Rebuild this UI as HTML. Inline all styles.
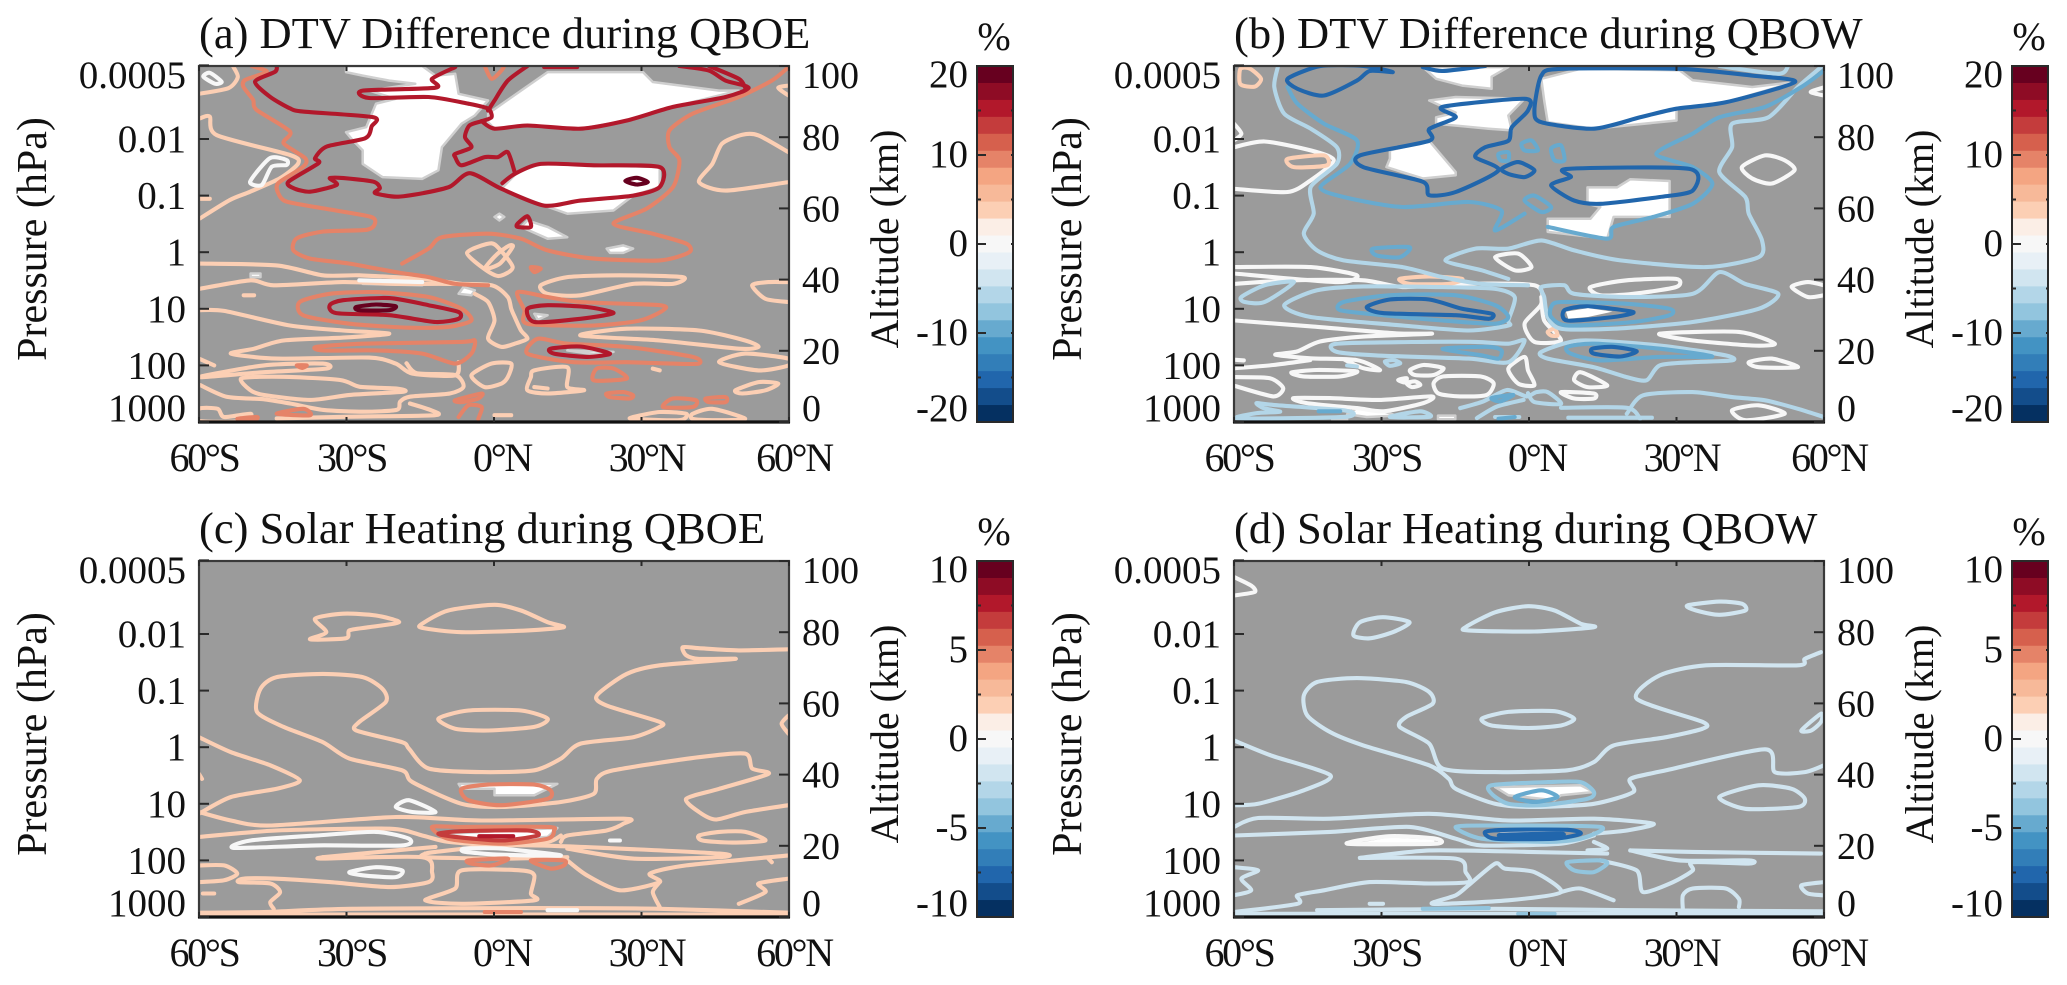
<!DOCTYPE html>
<html lang="en"><head><meta charset="utf-8"><title>DTV Difference and Solar Heating during QBO phases</title>
<style>
html,body{margin:0;padding:0;background:#fff;width:2067px;height:985px;overflow:hidden}
svg{display:block}
text{font-family:"Liberation Serif",serif;fill:#111}
.t{font-size:44.5px}.a{font-size:40px}
</style></head>
<body>
<svg id="fig" xmlns="http://www.w3.org/2000/svg" width="2067" height="985" viewBox="0 0 2067 985">
<g id="pa" transform="translate(0,0)">
<text class="t" x="199" y="48">(a) DTV Difference during QBOE</text>
<text class="a" style="font-size:42px" transform="translate(46,239) rotate(-90)" text-anchor="middle">Pressure (hPa)</text>
<text class="a" transform="translate(898,239) rotate(-90)" text-anchor="middle">Altitude (km)</text>
<text class="a" x="994" y="50" text-anchor="middle">%</text>
</g>
<g id="pb" transform="translate(1035,0)">
<text class="t" x="199" y="48">(b) DTV Difference during QBOW</text>
<text class="a" style="font-size:42px" transform="translate(46,239) rotate(-90)" text-anchor="middle">Pressure (hPa)</text>
<text class="a" transform="translate(898,239) rotate(-90)" text-anchor="middle">Altitude (km)</text>
<text class="a" x="994" y="50" text-anchor="middle">%</text>
</g>
<g id="pc" transform="translate(0,495)">
<text class="t" x="199" y="48">(c) Solar Heating during QBOE</text>
<text class="a" style="font-size:42px" transform="translate(46,239) rotate(-90)" text-anchor="middle">Pressure (hPa)</text>
<text class="a" transform="translate(898,239) rotate(-90)" text-anchor="middle">Altitude (km)</text>
<text class="a" x="994" y="50" text-anchor="middle">%</text>
</g>
<g id="pd" transform="translate(1035,495)">
<text class="t" x="199" y="48">(d) Solar Heating during QBOW</text>
<text class="a" style="font-size:42px" transform="translate(46,239) rotate(-90)" text-anchor="middle">Pressure (hPa)</text>
<text class="a" transform="translate(898,239) rotate(-90)" text-anchor="middle">Altitude (km)</text>
<text class="a" x="994" y="50" text-anchor="middle">%</text>
</g>
</svg>
<script>
// Axis categories and tick labels
const latTicks = [-60,-30,0,30,60];
const latLabels = ['60°S','30°S','0°N','30°N','60°N'];
const pressureTicks = [0.0005,0.01,0.1,1,10,100,1000];
const pressureLabels = ['0.0005','0.01','0.1','1','10','100','1000'];
const altitudeTicks = [100,80,60,40,20,0];
const colorbarBands = ['#67001f','#8e0c25','#b2182b','#c43c3c','#d6604d','#e58368','#f4a582','#f7b999','#fccfb4','#fbeee6','#f7f7f7','#e8f0f6','#d1e5f0','#b3d6e8','#92c5de','#67aacf','#4393c3','#327eb8','#2166ac','#134d8b','#053061'];
const colorbarTicksDTV = [20,15,10,5,0,-5,-10,-15,-20];
const colorbarTicksSolar = [10,7.5,5,2.5,0,-2.5,-5,-7.5,-10];

// Each contour is a flat list: lat (deg), altitude (km), lat, altitude, ...
// PANEL A
const aMask = [
[-30.1,100,-14.6,100,-11.9,97.3,-7.9,97.8,-7.2,92.2,-1.2,90.3,-3.9,86.1,-6.6,83.8,-10.6,77.2,-11.3,70.7,-14.6,68.3,-22.7,68.8,-26.7,72.5,-26.7,76.3,-28.7,79.1,-30.1,81.4,-26,82.8,-24,89.4,-20,90.8,-25.4,93.1,-16,95,-21.3,95.9,-26.7,97.3,-30.1,98.3],
[-1.2,86.6,5.5,93.1,10.9,98.3,30.3,98.3,32.3,95.5,45.8,93.1,49.8,93.1,36.4,88.5,27,84.7,17.6,82.4,6.8,83.3,0.1,82.4,-1.2,84.2],
[9.5,72.5,33.7,71.6,33.7,66,28.3,63.6,24.3,59.4,14.9,58.5,10.2,60.8,1.5,65.5,4.8,70.2],
[0.1,57.6,1.1,58.5,2.1,57.6,1.1,56.6],
[6.8,56.6,10.9,54.8,14.9,51.9,10.9,51.5,5.5,54.8],
[22.9,48.7,26.3,49.6,28.3,48.7,26.3,47.5,23.6,47.5],
[-6.2,37.9,-3.9,37,-4.6,35.6,-7.2,36],
[-49.5,41.7,-47.5,41.7,-47.5,40.7,-49.5,40.7],
[-27.4,39.8,-14.6,39.8,-14.6,38.4,-26.7,38.8],
[8.2,30.4,10.9,30,8.9,28.7],
[14.9,20.1,24.3,19.7,20.3,19]
];
const aLines0 = [[-27.4,39.8,-14.6,39.3]];
const aLoops0 = [
[-59.1,97,-57.8,98.1,-55.4,95.6,-56.7,95],
[-49.6,67.5,-45.6,74.1,-42.2,73.6,-42.2,72.2,-45.2,71.7,-47.2,66.6]
];
const aLines4 = [
[-60,92.2,-54,93.8,-52.1,96.9,-53.1,100],
[-59.8,85.3,-57.8,85.8,-56.4,80.6,-41.5,75,-39.8,72.7,-43.5,68.5,-49.6,64.7,-53.7,62.4,-59.8,57.2],
[59.9,94.5,57.8,93.9,59.9,91.7],
[59.9,75.8,53.8,80.5,50.5,80.7,46.4,78.2,44.4,72.5,41.7,67.4,47.1,65,59.9,67.4],
[-60,62.7,-57.8,62.7],
[-60,44.5,-44.2,44,-34.8,41.2,-27.4,41.2,-14.6,40.2,-6.6,38.8],
[-60,37.4,-49.5,39.8,-44.8,38.4,-30.7,39.3,-20,38.8,-9.3,38.8,-0.5,38.4,2.8,35.1,3.5,31.8,4.2,29.5,5.5,25.7,6.8,23.4,4.2,22,1.5,21.1,-1.2,23.4,0.1,28.5,-1.2,33.7,-3.9,36],
[59.9,39.3,55.8,39.3,52.5,38.4,55.2,34.6,59.9,33.7],
[-60,31.4,-54.9,31.2,-41.5,27.1,-30.7,25.7,-21.3,24.8,-30.7,23.7,-42.8,22.9,-48.8,20.6,-53.5,19.2,-44.2,17.8,-25.4,18.1,-20,16.4,-16.6,13.6,-7.9,13.1,-7.2,16.8],
[-59.8,10.4,-54.4,7.1,-46.9,6.4,-41.5,5.2,-34.7,3.4,-26.6,2.9,-19.8,3.4,-19.1,5.7,-17.1,7.1,-9,8,-6.2,9.9,-7.9,13.2,-15.7,13.7,-17.8,16.5],
[-17.1,5.2,-13,3.4,-12,1.9,-29.3,1.5,-44.2,1],
[-60,17.8,-56.9,15.9],
[0.1,1.9,3.5,1.9],
[32.3,15,33.7,14.5],
[8.2,9.8,10.9,9.4],
[-50.9,35.6,-48.8,35.6]
];
const aLoops4 = [
[9.5,38.4,14.9,40.7,25.6,41.2,38.4,40.7,36.4,38.8,28.3,38.8,17.6,35.6,10.9,36],
[17.6,24.3,27,26.2,41.7,25.7,51.1,22.9,53.8,21.1,49.8,20.6,33.7,22.9],
[-60,12.6,-46.8,15.9,-34.8,16.4,-34.1,15,-46.8,14],
[-51.3,12.3,-49.6,9,-46.9,7.6,-37.4,6.2,-29.3,7.6,-18.4,8.5,-19.8,9.4,-27.3,9.9,-31.3,11.8,-42.8,12.7],
[-4.6,13.1,-0.5,16.4,3.5,16.4,2.8,12.6,1.5,10.8,-1.9,9.8],
[8.2,14.5,14.9,15.4,14.9,9.8,18.3,8.9,10.9,8,6.8,8.9,7.5,12.6],
[45.8,16.8,51.1,19.2,59.9,17.8,59.9,15.9,53.8,14.5],
[49.1,8.9,53.8,11.2,57.8,10.8,55.2,8.9,50.5,8],
[-60,3.7,-56.2,3.7,-54.9,1.4,-49.5,2.3,-50.9,0.3,-60,0.3],
[28.3,1.4,33.7,2.8,39.1,2.3,37.7,0.5,28.3,0.9],
[40.4,2.3,44.4,3.7,51.1,0.9,44.4,0.5,40.4,0.9],
[-1.9,43,0.5,47,3,49.5,3.8,49.2,1.2,44.5],
[-5.5,47.5,-1.5,50,0.4,49.6,3.8,43.5,1,41,-2,43]
];
const aLines10 = [
[-49.3,100,-46.2,98.4,-50.6,96.1,-51,94.2,-49,90.5,-48.3,87.7,-41.5,81.6,-42.8,78.3,-38.4,74.1,-38.8,71.7,-43.9,67.1,-43.9,64.3,-42.2,61.9,-34.7,60,-25.2,57.7,-24.2,55.8,-25.9,54,-34.7,53.5,-40.1,51.6,-40.8,48.2,-37.4,45.9,-29.4,44.5,-20,42.1,-13.3,40.7,-7.9,38.8,-1.2,38.4],
[-18.7,44.5,-13.3,48.7,-10.6,51.9,-1.2,52.9,5.5,51.5,10.9,48.2,20.3,45.9,33.7,45.4,39.7,47.7,39.1,50.1,32.3,52.9,24.3,55.7,31,59.9,36.4,66,37.7,73.5,35.7,77.2,35.7,81.9,40.4,86.6,49.8,91.3,56.5,95.9,59.9,99.7],
[-1.9,100,-0.5,96.4,1.5,98.7,2.1,100],
[-7.2,1.4,-5.2,4.7,-2.5,4.2,-3.2,0.9]
];
const aLoops10 = [
[7.5,43.5,9.5,43.1,8.2,42.1],
[-39.5,33.7,-33.4,36,-24,36.5,-13.3,35.1,-6.6,31.8,-4.6,28.5,-9.3,26.7,-17.3,26.5,-29.4,27.6,-38.8,30],
[-36.1,21.1,-26.7,22,-6.6,22.5,-3.9,22.9,-4.6,19.2,-7.9,16.4,-14.6,19.2,-24,20.1,-34.8,20.1],
[4.8,36.5,10.9,35.1,17.6,33.7,33.7,32.8,34.4,31.4,29.7,28.5,20.3,27.1,6.8,27.6,6.2,31.4],
[6.8,19.2,8.9,23.4,14.9,22,27,21.1,40.4,18.3,41.7,16.4,36.4,16.4,27,16.8,16.2,16.8],
[20.9,15,24.3,15,27,12.2,20.3,11.7],
[22.9,8,26.3,8.4,28.3,7.5,27.6,6.6,23.6,7],
[34.4,4.2,36.4,6.6,41.1,6.1,40.4,4.2],
[43.1,6.6,47.1,7,47.1,5.6,43.7,5.6],
[-44.2,2.3,-38.8,3.7,-37.4,1.9],
[-52.2,0.9,-48.2,1.4,-48.8,0.5],
[-7.9,6.1,-2.5,8,-3.2,6.6,-6.6,5.6],
[-40.1,15.9,-38.1,15.9,-39,15.2]
];
const aLines16 = [
[-44.2,100,-44.5,98.4,-48.6,95.6,-45.6,91.4,-41.5,88.1,-38.8,87.2,-24.5,85.6,-24.9,83,-26.2,79.7,-34,77.4,-36.4,74.1,-35.7,72.7,-41.8,67.5,-40.8,65.7,-37.4,64.7,-32,66.6,-33.4,68.5,-30.6,68.5,-24.5,67.5,-23.2,65.7,-24.2,64.3,-19.8,63.3,-14.4,64.3,-9,66.1,-4.9,69.9,1.5,65.5,10.2,60.8,17.6,62.2,28.3,63.6,33.7,66,33.7,71.6,20.3,72.1,9.5,72.5,4.2,69.7,1.7,67.1],
[-2.5,84.5,-5,83.3,-5.9,80,-4.6,77.2,-7.9,75.3,-7.9,74.4,-6.6,72.1,-1.9,74.4,0.8,74.4,2.8,75.8,4.2,70.2],
[-2.5,84.5,0.1,82.4,6.8,83.3,17.6,82.4,27,84.7,36.4,88.5,47.1,91.3,51.8,93.9,47.1,95.9,43.7,98.7,37.7,100],
[-7.9,99.7,-12.6,96.4,-11.9,93.9,-26.7,93.1,-25.4,91,-13.3,91.3,-5.2,89.4,-1.2,88,-0.5,85.6,-2.5,84.5],
[6.8,100,2.8,95.9,0.1,90.3,-1.2,87.5],
[10.2,99.7,16.9,99.7],
[51.1,93.9,49.8,96.4,43.7,100]
];
const aLoops16 = [
[-33.4,32.8,-30.7,34.2,-21.3,34.8,-13.3,32.8,-7.2,30.9,-7.2,29,-11.9,28.1,-21.3,30,-32.1,30.6],
[6.8,31.8,10.9,32.8,18.9,32.3,24.3,30.6,17.6,29,8.2,28.1],
[11.5,20.6,17.6,21.2,23.6,19.2,18.9,18.3,12.2,19.2],
[4.8,55.7,6.8,57.8,7.5,54.8,4.8,54.8]
];
const aLines20 = [];
const aLoops20 = [
[-28,32.3,-24,33,-20,32.5,-21.3,31.4,-27.4,31.4],
[26.7,67.7,29,68.6,31.3,67.4,29,66.7]
];

// PANEL B
const bMask = [
[-21.6,99.7,-4.2,99.7,-7.6,97,-7.6,93.6,-13.6,94.5,-18.9,96.4],
[-20.3,90.3,-14.9,91.3,-0.9,90.8,-4.2,86.1,-3.5,81.9,-8.2,82.4,-18.9,83.8,-18.9,85.6,-14.9,86.9],
[-28.3,76.3,-20.3,79,-14.9,70.2,-14.9,69.3,-21.6,68.4,-29,71.6,-28.3,74],
[2.5,96.4,10.5,99.2,30.6,98.8,33.3,96,45.4,94.1,54.1,95.5,40,89.8,30,88,30,84.7,13.2,82.4,3.8,84.2,3.1,90.3],
[11.9,65.9,17.9,65.9,20.6,68.2,28.6,67.7,28.6,57.6,17.2,57.6,15.9,51.5,3.8,53.4,3.8,57.1,12.5,57.1,14.5,60.4,11.9,61.3],
[-35,3.9,-29.6,3,-27,1.8,-33,1.4,-37,2.2],
[-40,1,-37,1,-37,0.4,-40,0.4],
[-18.5,1.8,-15,1.8,-15,0.8,-18.5,0.8]
];
const bLines4 = [];
const bLoops4 = [
[-58.7,99.2,-56.7,99.2,-54.5,96.4,-55.8,94.2,-58.7,94.9],
[-49.1,73.9,-41.7,74.9,-41.1,72.1,-47.8,71.6],
[-26.3,40.2,-20.3,40.9,-13.6,40.2,-16.3,38.8,-24.3,38.8],
[3.8,25.3,5.2,26.2,5.8,24.3,4.5,24.3]
];
const bLines0 = [
[-60,77.2,-53.8,78.8,-44.4,76.3,-39.7,73.5,-44.4,67.9,-49.1,64.6,-60,65.5],
[-60,83.8,-58.5,81,-60,79.1],
[60,91.7,57.3,92.7,60,94],
[-60,43.5,-44.4,43.5,-35,41.2,-39.1,39.3,-60,41.7],
[-60,38.8,-47.8,39.8,-33.7,39.8,-25.7,37.9,-14.9,38.8,1.1,38.4,2.5,33.2,-0.9,27.6,1.1,22.5,6.5,22.9,3.1,28.5,2.5,35.1],
[60,38.4,56.7,39.3,53.4,38,56.7,35.1,60,35.6],
[-59.8,28.5,-43.9,26.8,-26.9,24.9,-19.8,24.8,-33.7,24,-42.5,22.6,-47.2,19.8,-51.6,18.9,-44.5,17.9,-35,17.4,-30.3,14.6,-33.7,15.1,-37.7,17.6],
[-59.8,15.1,-52,16,-44.5,17.4],
[-59.8,12.6,-52.7,12.3,-50,9.5,-52,7.2,-59.8,10.1],
[-60,17.5,-58,17.3]
];
const bLoops0 = [
[43.3,71.6,48,74.9,52,73.5,54,70.7,49.4,67,45.4,68.4],
[-6.9,46.3,-2.2,47.3,0.5,43.5,-2.9,42.6],
[12.5,37.9,19.9,39.8,29.9,40.2,29.9,37.9,21.2,36,14.5,35.6],
[26.6,24.8,42.7,25.3,50,22,45.4,21.5,33.3,22.9],
[44.7,16.8,49.4,17.8,54.7,15.4,46.7,15.4],
[-48.3,13.9,-43.2,14.6,-35,14.2,-38.4,12.8,-45.9,12.8],
[-47.9,6.7,-40.5,6.7,-30.3,6.2,-19.8,7.2,-21.5,5.3,-29.6,3,-35,3.9,-45.2,5.3],
[-24.2,14.6,-21.5,16,-17.4,15.1,-19.4,13.2,-23.2,13.2],
[-19.4,10.9,-17.4,12.8,-9.9,12.8,-7.2,10.9,-8.6,7.6,-14,7.2,-18.4,8],
[-26.6,11.8,-24.9,12.3,-25.2,11.1],
[-24.9,10.9,-23.2,11.4,-22.1,10.4,-23.8,9.8],
[-4.2,15,-0.9,18.3,-0.2,14.5,1.1,10.3,-2.2,10.8],
[9.2,11.7,10.5,14,15.9,10.3,11.9,9.8],
[6.5,8.4,13.2,8,13.2,6.6,9.2,6.6],
[41.3,3.3,46.7,4.7,52,2.3,44,0.5]
];
const bLines6 = [
[-51.1,99.7,-51.8,94.1,-49.8,86.6,-44.4,82.4,-39.1,77.2,-39.1,72.5,-44.4,66,-43.8,58.5,-45.8,52.9,-43.1,48.2,-37.7,45.4,-25.7,43.5,-17.6,40.7,-9.6,38.8,-0.2,38.4],
[59.4,99.7,54.7,94.1,48.7,85.6,41.3,83.8,41.3,77.2,38.7,70.2,44,63.2,44.7,58.5,47.4,51,46.7,46.3,36,43.5,18.6,45.4,9.2,48.2,2.5,51,-4.2,48.7,-10.9,48.7,-17,45.4,-9.6,42.6,-4.2,40.2],
[38.7,100,50.7,97.8,52.7,100],
[-14,3.9,-9.3,5.8,-4.5,9,-0.5,7.2,1.5,8.4,3.8,8.4,6.5,5.1,1.1,5.6,-0.2,8.1],
[-10.6,1.1,-6.6,4.3,-1.1,6.2],
[19.9,2.3,23.2,7.5,33.3,8.4,41.3,7,48,6.1,54.7,3.7,60,1.4],
[6.5,4,19.9,4,22.6,0.9],
[-6.9,1.4,-2,1.4],
[8,1.2,25,1.2],
[-37,15.9,-35,15.6]
];
const bLoops6 = [
[-49.8,32.8,-43.1,37,-33.7,38.1,-17.6,37.9,-6.9,37.4,-2.9,35.1,-4.2,28.5,-4.2,27.1,-12.3,25.7,-25.7,27.1,-44.4,29.5],
[2.5,37.9,7.2,38.4,9.2,36,19.9,35.1,33.3,36,38.7,42.1,44,38.8,50.7,36,46.7,31.8,33.3,28.1,17.2,26.2,6.5,26.2,3.8,29.5,3.1,35.1],
[-39.1,22,-21.6,22.5,-10.9,22.5,-4.2,22,-0.9,22.9,-4.2,16.8,-12.3,17.8,-31,18.7,-39.1,19.7],
[2.5,19.7,10.5,22.9,26.6,21.5,40,18.7,41.3,17.3,33.3,16.8,26.6,15.9,23.9,11.7,19.9,12.6,13.2,15.4,3.8,17.8],
[-58.5,35.1,-53.8,38.4,-47.8,39.3,-53.8,33.7,-57.8,33.7],
[-55.4,5.3,-52,4.8,-38.4,3.4,-35.7,2.5,-37,1.5,-47.2,1.1,-59.5,1.1,-55.4,2.5,-50.6,2.9,-54,3.9],
[-28.3,1.4,-22.2,3,-20.1,1.5],
[-29.3,17,-27.6,17.4,-26.2,16.5,-28.3,15.8]
];
const bLines10 = [
[-49.1,94.1,-47.1,89.4,-41.7,83.8,-35,79.1,-36.4,72.5,-42.4,66,-37.7,63.2,-25.7,60.4,-12.3,61.8,-5.6,59.4,-6.9,53.8,-0.9,58.5],
[3.8,54.8,15.9,51.5,17.2,54.8,25.3,57.6,33.3,61.3,37.3,66.9,33.3,71.6,25.9,75.3,33.3,81,38.7,85.6,48,88.5,55.4,94.1,60,98.7],
[-6.2,0.9,-2.9,1.4],
[-42.8,3,-38.4,3]
];
const bLoops10 = [
[-31.7,48.7,-24.3,49.1,-26.3,46.3,-31,46.8],
[-0.9,62.2,1.1,63.6,4.5,60.4,2.5,59],
[-1.5,78.2,0.5,79.1,1.8,76.3,-0.9,76.3],
[4.5,76.8,6.5,77.7,7.2,73.5,5.2,73.5],
[-6.2,75.3,-4.2,75.8,-4.2,73.5,-5.8,73.5],
[-38.4,31.4,-37.7,33.7,-28.3,35.6,-14.9,35.6,-6.9,32.8,-4.2,29.5,-6.9,27.6,-17.6,28.5,-29.7,30],
[4.5,32.3,6.5,33.7,19.9,33.2,28.6,31.8,28.6,30,21.2,28.1,7.8,27.1,4.5,29.5],
[-17.6,20.6,-8.2,21.1,-5.6,20.1,-6.2,17.8,-9.6,18.7],
[7.8,21.1,13.2,22,26.6,20.6,37.3,18.4,26.6,18.3,14.5,17.3,8.5,19.2],
[-7.6,6.7,-3.2,7.6,-5.9,5.8]
];
const bLines16 = [
[-21.6,99.7,-17.6,98.6,-8.9,100]
];
const bLoops16 = [
[-42.4,100,-49.1,96.4,-47.1,93.6,-41.7,91.7,-35,95.9,-32.4,98.6,-27.7,98.3,-33.7,100],
[6.5,99.2,2.5,97.3,1.1,87.5,2.5,84.2,13.2,82.4,22.6,85.6,30,88,40,89.8,54.1,95.5,45.4,97.3,30.6,99.2],
[-17.6,88.5,-0.9,90.8,-0.2,87.5,-3.5,82.8,-4.2,79,-8.9,77.2,-10.9,74.4,-6.2,70.7,-14.9,64.6,-20.3,63.7,-21.6,67.5,-33.7,71.6,-34.4,74.9,-20.3,79,-20.3,82.3,-14.9,85.6],
[-5.6,71.1,-2.2,73,1.1,70.7,-0.9,68.8,-4.2,69.7],
[7.8,71.1,32.6,71.1,33.3,65,26.6,63.2,14.6,61.3,9.2,62.2,4.5,66.5,8.5,68.8],
[-33,32.3,-28.3,34.4,-20.3,34.4,-13.6,31.8,-7.5,30.4,-8.2,29,-14.9,30,-29.7,30.6],
[7.2,31.4,11.9,32.5,21.2,30.9,17.2,29.5,7.8,28.5],
[12.9,20.6,17.2,21.1,21.9,19.9,18.6,18.4,13.2,19.2]
];
const bWhiteCores = [
[7.5,31,12,32,17,31,12,29.5,8,29]
];

// PANEL C
const cMask = [
[-7.2,37.4,12.9,37.4,10.9,36,8.2,34.2,0.1,34.2,0.1,36,-6.6,36],
[-9.3,23.4,12.9,25,10.9,22.5,5.5,22,-6.6,22]
];
const cLines0 = [
[23.6,21.5,25.6,21.5],
[10.9,1.9,16.9,1.9]
];
const cLoops0 = [
[-52.9,19.4,-49.5,21.5,-36.1,22.9,-24,23.9,-17.3,22,-18.7,20.1,-36.1,20.1],
[-20,30.9,-17.3,32.8,-11.9,29.5,-16.6,29.5],
[-29.4,12.6,-24,14,-18.7,13.1,-20,11.2,-26.7,11.7],
[-5.9,19.2,1.5,19.2,13.6,17.3,1.5,17.5,-5.9,18.3]
];
const cLines2 = [
[59.9,75.2,49.8,74.9,41.7,75.5,38.4,75.8,39.1,73.5,41.7,72.5,49.1,72.5,33.7,70.7,27,68.3,20.9,62.2,22.9,59.4,33.7,54.8,33.7,53.4,28.3,50.5,17.6,48.7,13.6,44.5,8.2,41.2,-2.5,40.7,-13.3,41.7,-17.3,47.3,-18.7,49.1,-28,52.4,-27.4,54.8,-22,60.4,-22.7,64.1,-26.7,67.4,-34.8,68.3,-44.2,67.4,-47.5,64.1,-48.2,57.6,-42.8,53.4,-34.8,49.1,-29.4,44.5,-18.7,41.2,-16.6,37.9,-6.6,31.8,1.5,30.9,13.6,32.3,20.3,34.6,20.9,38.8,24.3,41.2,41.7,44.9,51.1,45.9,52.5,41.7,55.8,40.2,45.8,36,39.1,33.2,41.7,29.5,45.1,27.4,51.1,29.5,59.9,31.4],
[59.9,56.6,58.5,54.3,59.9,51.5],
[-60,50.5,-53.5,46.3,-45.5,42.6,-39.5,38.4,-44.2,36,-53.5,33.7,-60,29],
[-60,40.2,-59.4,38.8],
[-60,29.5,-53.5,27.1,-45.5,25.7,-20,28.1,-2.5,27.1,26.3,27.6,26.3,26.2,22.9,24.3,14.9,22.9,13.6,21.1],
[-60,22.5,-44.2,24.3,-21.3,24.8,-14.6,22.9,-9.3,21.1,1.5,20.1,10.9,21.1,13.6,22.9],
[-14,17.8,-11.9,18.3,1.5,20.1,17.6,19.7,45.8,17.8,45.8,16.8,28.3,16.4,14.9,19.2],
[-14,17.8,-14,16.8,1.5,16.4,14.9,16.8],
[-34.8,16.8,-20,18.7,-11.9,19.7],
[-34.8,16.8,-34.8,16.4,-14.6,16.8,-12.6,12.6,-13.3,9.8,-21.3,8.4,-33.4,9.8,-44.8,10.8,-50.9,10.8,-51.9,9.8,-45.5,9.4,-43.5,7,-45.5,4.2,-44.8,2.3],
[-60,14.5,-54.9,14.5,-52.2,12.2,-54.9,10.3,-60,9.8],
[14.9,15.9,18.9,11.7,25.6,7.5,33.7,9.8,31.7,12.2,39.1,14.5,59.9,17.3],
[33.7,9.8,32.3,7,33.7,2.8],
[59.9,10.8,53.8,9.4,55.2,7,49.8,3.7],
[55.8,16.4,56.5,15.4],
[-60,1.2,-46.8,1.4,-29.4,2.3,6.8,2.5,33.7,2.3,59.9,1.2],
[-60,0.7,59.9,0.7],
[-59.2,6.6,-56.9,6.6]
];
const cLoops2 = [
[-14.6,82.4,-9.3,86.1,0.1,87.7,5.5,86.1,10.9,82.8,14.2,81.4,6.8,80.5,-6.6,80,-14.6,81.2],
[-36.4,83.8,-30.7,85.2,-24,84.7,-19.3,82.8,-25.4,81.4,-29.4,80.5,-30.1,78.3,-37.4,78,-34.1,80],
[-11.3,55.7,-5.2,58,5.5,58,10.9,55.7,8.2,53.4,-1.2,52.4,-7.9,52.9],
[-6.6,13.1,-7.9,8,-14,4.7,-6.6,3.7,8.2,4.7,7.5,6.6,8.2,11.7,5.5,13.1],
[41.7,22.9,45.8,23.9,51.1,23.9,55.2,21.5,48.4,20.9,42.4,21.5]
];
const cLines5 = [[-1.9,1.4,5.5,1.4]];
const cLoops5 = [
[-6.6,36,-1.2,37.2,8.2,37.2,11.5,35.6,10.9,33.2,1.5,31.4,-5.2,32.8],
[-12.6,25.3,-6.6,25.3,10.9,25.3,12.2,24.3,10.9,22,1.5,20.6,-9.3,22],
[-5.2,15.9,2.8,16.4,-0.5,14.5,-4.6,15],
[7.5,15.9,14.2,15.9,14.2,14.5,11.5,13.6]
];
const cLines7 = [];
const cLoops7 = [
[-11.3,23.4,-6.6,24.1,6.8,24.3,8.9,22.9,1.5,21.5,-7.9,22.5]
];
const cLines8 = [[-3,22.7,3.9,22.7]];
const cLoops8 = [];

// PANEL D
const dMask = [
[-37,20.6,-28.3,22.7,-19,22,-19,20.6],
[-6.9,36.5,10.5,37,13.2,35.1,6.5,34.2,5.2,32.8,-4.2,34.2],
[-5.6,23.7,6.5,23.9,5.2,22.5,-4.2,22.5]
];
const dLines0 = [[-60,95.5,-56.5,93.1,-55.8,91.3,-60,90.3]];
const dLoops0 = [[-37,20.6,-28.3,22.7,-19,22,-19,20.6]];
const dLines2 = [
[59.4,74.4,56.1,72.5,54.7,70.7,36,70.7,26.6,67.9,21.9,61.3,35.3,54.8,35.3,52.9,27.9,50.5,17.2,48.2,13.2,43.5,7.8,41.2,-6.9,40.7,-17.6,41.7,-20.3,48.7,-26.3,53.4,-25,56.2,-19.6,59.9,-20.3,63.2,-25,66,-35,67.1,-43.1,66,-45.8,62.2,-45.1,56.6,-40.4,51.9,-33.7,48.2,-20.3,42.6,-16.3,38.8,-14.9,36,-6.9,31.8,1.1,30.9,13.2,31.8,21.2,35.1,20.6,38.8,27.9,41.2,48,47.1,50,40.7,56.1,40.7,60,42.6],
[-60,49.6,-52.5,45.4,-40.4,39.8,-45.8,35.6,-55.1,31.8,-60,31.4],
[-60,25.3,-55.1,27.8,-40.4,27.6,-20.3,29,-4.2,27.1,13.2,27.6,25.3,26.2,19.9,24.3,13.2,23.4],
[-60,22.9,-40.4,23.9,-24.3,25.3,-14.9,22,-9.6,20.1,6.5,20.6,13.2,22.9],
[13.2,21.1,15.9,19.2,11.9,18.7],
[-34.4,16.6,-20.3,18.7,-0.2,18.3,15.9,17.8],
[-34.4,16.6,-14.9,16.4,-12.9,12.6,-12.3,9.8,-20.3,9.4,-32.4,9.8,-41.7,7.5,-47.1,6.1,-47.1,3.7,-60,1.4],
[20.6,18.7,33.3,18.3,59.4,17.8],
[20.6,18.7,30.6,15.9,44.7,15.9,44.7,15,33.3,15.4,33.3,13.1,29.3,9.8,23.2,7,21.9,13.1,14.5,15.9],
[6.5,7,10.5,8,17.2,4.7],
[31.3,1.9,31.3,6.1,33.3,8,40,8,42.7,5.1,42.7,2.8],
[60,9.8,55.4,8.9,56.7,6.6,60,6.1],
[-60,14,-55.1,13.1,-58.5,10.8,-56.5,7.5,-60,6.1],
[-43.1,1.9,-6.9,2.3,19.9,1.9,60,1.6],
[-60,0.9,60,0.9],
[-32.4,3.7,-29.7,3.7]
];
const dLoops2 = [
[-12.9,81.4,-6.9,85.6,-0.2,87.3,5.2,86.1,10.5,82.4,13.2,81.4,1.1,80.2,-12.3,80.5],
[-35.7,79.1,-34.4,82.8,-29.7,84.2,-24.3,82.8,-27.7,80,-32.4,78.3],
[32.2,87.5,38.7,88.6,43.3,88,44,86.1,38.7,84.9,34,86.1],
[-9.6,55.7,-4.2,57.6,5.2,57.8,9.2,55.7,6.5,53.8,-0.2,53.1,-7.6,53.8],
[55.4,52.4,59.4,57.1,59.4,54.8,57.4,52.4],
[38.7,33.7,46.7,37,53.4,36,56.1,33.2,54.7,30.9,44,30.4],
[-6.9,15,-12.3,8.9,-14.9,6.1,-19.6,3.7,-4.2,4.7,6.5,7,1.1,12.6,-4.9,13.6]
];
const dLines4 = [
[-21.6,2.3,-8.2,2.5],
[-2.2,0.9,5.2,0.9]
];
const dLoops4 = [
[-7.6,37,3.8,37.9,10.5,37.9,13.2,35.1,11.9,33.2,2.5,31.4,-4.2,31.8,-7.6,34.6],
[-14.9,25.3,-6.9,25.7,14.5,25.3,10.5,22,3.8,21.1,-9.6,22],
[7.8,15.4,14.5,15.9,15.9,15,13.2,12.6,9.2,13.1]
];
const dLines5 = [];
const dLoops5 = [[-2.9,33.7,2.5,35.6,5.8,33.7,1.1,32.3]];
const dLines8 = [];
const dLoops8 = [
[-8.9,23.9,-4.2,24.5,7.8,24.5,10.5,23.4,5.2,22,-6.9,22],
[-5.6,23.1,6.5,23.4,5.2,22.5,-4.2,22.5]
];

const panels = [
 {id:'pa', cmax:20, cticks:colorbarTicksDTV, mask:aMask, series:[
  {level:4, lines:aLines4, loops:aLoops4},{level:0, lines:aLines0, loops:aLoops0},{level:10, lines:aLines10, loops:aLoops10},{level:16, lines:aLines16, loops:aLoops16},{level:20, lines:aLines20, loops:aLoops20}]},
 {id:'pb', cmax:20, cticks:colorbarTicksDTV, mask:bMask, series:[
  {level:0, lines:bLines0, loops:bLoops0},{level:4, lines:bLines4, loops:bLoops4},{level:-6, lines:bLines6, loops:bLoops6},{level:-10, lines:bLines10, loops:bLoops10},{level:-16, lines:bLines16, loops:bLoops16}]},
 {id:'pc', cmax:10, cticks:colorbarTicksSolar, mask:cMask, series:[
  {level:2, lines:cLines2, loops:cLoops2},{level:0, lines:cLines0, loops:cLoops0},{level:5, lines:cLines5, loops:cLoops5},{level:7, lines:cLines7, loops:cLoops7},{level:8, lines:cLines8, loops:cLoops8}]},
 {id:'pd', cmax:10, cticks:colorbarTicksSolar, mask:dMask, series:[
  {level:-2, lines:dLines2, loops:dLoops2},{level:0, lines:dLines0, loops:dLoops0},{level:-4, lines:dLines4, loops:dLoops4},{level:-5, lines:dLines5, loops:dLoops5},{level:-8, lines:dLines8, loops:dLoops8}]}
];

const NS = 'http://www.w3.org/2000/svg';
const PL = 199, PR = 789, PT = 66, PB = 422, CL = 977, CR = 1013;
const LW = 4.1;
function xLat(lat){ return PL + (lat + 60) / 120 * (PR - PL); }
function yAlt(alt){ return PB - alt / 100 * (PB - PT); }
function yPressure(p){ return 139 + (Math.log10(p) + 2) * 56.6; }
function yBar(v, cmax){ return PT + (cmax - v) / (2 * cmax) * (PB - PT); }
function bandColor(v, cmax){
  const n = colorbarBands.length;
  const i = Math.floor((cmax - v) / (2 * cmax) * n);
  return colorbarBands[Math.max(0, Math.min(n - 1, i))];
}
function toPixels(flat){
  const out = [];
  for (let i = 0; i + 1 < flat.length; i += 2) out.push([xLat(flat[i]), yAlt(flat[i + 1])]);
  return out;
}
function polyD(flat){
  return 'M' + toPixels(flat).map(function(q){ return q[0].toFixed(1) + ' ' + q[1].toFixed(1); }).join('L') + 'Z';
}
// Smooth curve through the contour vertices (Catmull-Rom style)
function smoothD(flat, closed){
  const P = toPixels(flat), n = P.length, k = 1 / 8;
  if (n < 3) return 'M' + P.map(function(q){ return q[0].toFixed(1) + ' ' + q[1].toFixed(1); }).join('L');
  const at = function(i){ return closed ? P[(i + n) % n] : P[Math.max(0, Math.min(n - 1, i))]; };
  let d = 'M' + P[0][0].toFixed(1) + ' ' + P[0][1].toFixed(1);
  const last = closed ? n : n - 1;
  for (let i = 0; i < last; i++) {
    const a = at(i - 1), b = at(i), c = at(i + 1), e = at(i + 2);
    d += 'C' + (b[0] + (c[0] - a[0]) * k).toFixed(1) + ' ' + (b[1] + (c[1] - a[1]) * k).toFixed(1) + ' ' +
         (c[0] - (e[0] - b[0]) * k).toFixed(1) + ' ' + (c[1] - (e[1] - b[1]) * k).toFixed(1) + ' ' +
         c[0].toFixed(1) + ' ' + c[1].toFixed(1);
  }
  return d + (closed ? 'Z' : '');
}
function clampNum(v, a, b){ return Math.max(a, Math.min(b, v)); }
function mk(tag, parent, attrs){
  const el = document.createElementNS(NS, tag);
  for (const k in attrs) el.setAttribute(k, attrs[k]);
  parent.appendChild(el);
  return el;
}
const AXIS = '#2a2a2a';

panels.forEach(function(p){
  const g = document.getElementById(p.id);
  const clipId = 'clip-' + p.id;
  const defs = mk('defs', g, {});
  const cp = mk('clipPath', defs, {id: clipId});
  mk('rect', cp, {x: PL, y: PT, width: PR - PL, height: PB - PT});

  const bg = mk('rect', g, {x: PL, y: PT, width: PR - PL, height: PB - PT, fill: '#9b9b9b'});
  
  

  const plot = mk('g', g, {'clip-path': 'url(#' + clipId + ')'});
  
  

  p.mask.forEach(function(m){
    const el = mk('path', plot, {d: polyD(m), fill: '#fff', stroke: '#cfcfcf', 'stroke-width': 2.5, 'stroke-linejoin': 'round'});
    
    
  });
  p.series.forEach(function(s){
    const color = bandColor(s.level, p.cmax);
    s.lines.forEach(function(c){
      const el = mk('path', plot, {d: smoothD(c, false), fill: 'none', stroke: color, 'stroke-width': LW, 'stroke-linejoin': 'round', 'stroke-linecap': 'round'});
      
      
    });
    s.loops.forEach(function(c){
      const el = mk('path', plot, {d: smoothD(c, true), fill: 'none', stroke: color, 'stroke-width': LW, 'stroke-linejoin': 'round'});
      
      
    });
  });
  if (p.id === 'pb') bWhiteCores.forEach(function(m){
    const el = mk('path', plot, {d: polyD(m), fill: '#fff'});
    
    
  });

  const frame = mk('rect', g, {x: PL, y: PT, width: PR - PL, height: PB - PT, fill: 'none', stroke: '#3a3a3a', 'stroke-width': 2.2});
  
  
  const floor = mk('line', g, {x1: PL - 1, x2: PR + 1, y1: PB, y2: PB, stroke: '#111', 'stroke-width': 3.2});
  
  

  latTicks.forEach(function(t, i){
    const x = xLat(t);
    const a = mk('line', g, {x1: x, x2: x, y1: PT, y2: PT + 5, stroke: AXIS, 'stroke-width': 2});
    
    
    const b = mk('line', g, {x1: x, x2: x, y1: PB, y2: PB - 5, stroke: AXIS, 'stroke-width': 2});
    
    
    const tx = mk('text', g, {x: x + (t === 0 ? 8 : 5), y: 471, 'text-anchor': 'middle', 'font-size': 40, 'letter-spacing': '-2.3px'});
    tx.textContent = latLabels[i];
    
    
  });
  pressureTicks.forEach(function(t, i){
    const y = yPressure(t);
    const l = mk('line', g, {x1: PL, x2: PL + 10, y1: y, y2: y, stroke: AXIS, 'stroke-width': 2});
    
    
    const tx = mk('text', g, {x: 186, y: clampNum(y + 13, 88, 421), 'text-anchor': 'end', 'font-size': 39});
    tx.textContent = pressureLabels[i];
    
    
  });
  altitudeTicks.forEach(function(t){
    const y = yAlt(t);
    const l = mk('line', g, {x1: PR - 10, x2: PR, y1: y, y2: y, stroke: AXIS, 'stroke-width': 2});
    
    
    const tx = mk('text', g, {x: 802, y: clampNum(y + 13, 88, 421), 'font-size': 38});
    tx.textContent = String(t);
    
    
  });

  const bar = mk('g', g, {});
  
  
  const n = colorbarBands.length;
  colorbarBands.forEach(function(c, i){
    const y = PT + i / n * (PB - PT);
    const r = mk('rect', bar, {x: CL, y: y, width: CR - CL, height: (PB - PT) / n + 0.5, fill: c});
    
    
  });
  const bf = mk('rect', bar, {x: CL, y: PT, width: CR - CL, height: PB - PT, fill: 'none', stroke: AXIS, 'stroke-width': 2});
  
  
  p.cticks.forEach(function(t, i){
    const y = yBar(t, p.cmax);
    const major = i % 2 === 0;
    const l = mk('line', bar, {x1: CL, x2: CL + (major ? 9 : 4), y1: y, y2: y, stroke: AXIS, 'stroke-width': 2});
    
    
    const r = mk('line', bar, {x1: CR - 2, x2: CR, y1: y, y2: y, stroke: AXIS, 'stroke-width': 2});
    
    
    const showLabel = p.cmax === 20 ? (t % 10 === 0) : (t % 5 === 0);
    if (showLabel) {
      const tx = mk('text', bar, {x: 968, y: clampNum(y + 12, 87, 421), 'text-anchor': 'end', 'font-size': 39});
      tx.textContent = String(t);
      
      
    }
  });
});
</script>
</body></html>
